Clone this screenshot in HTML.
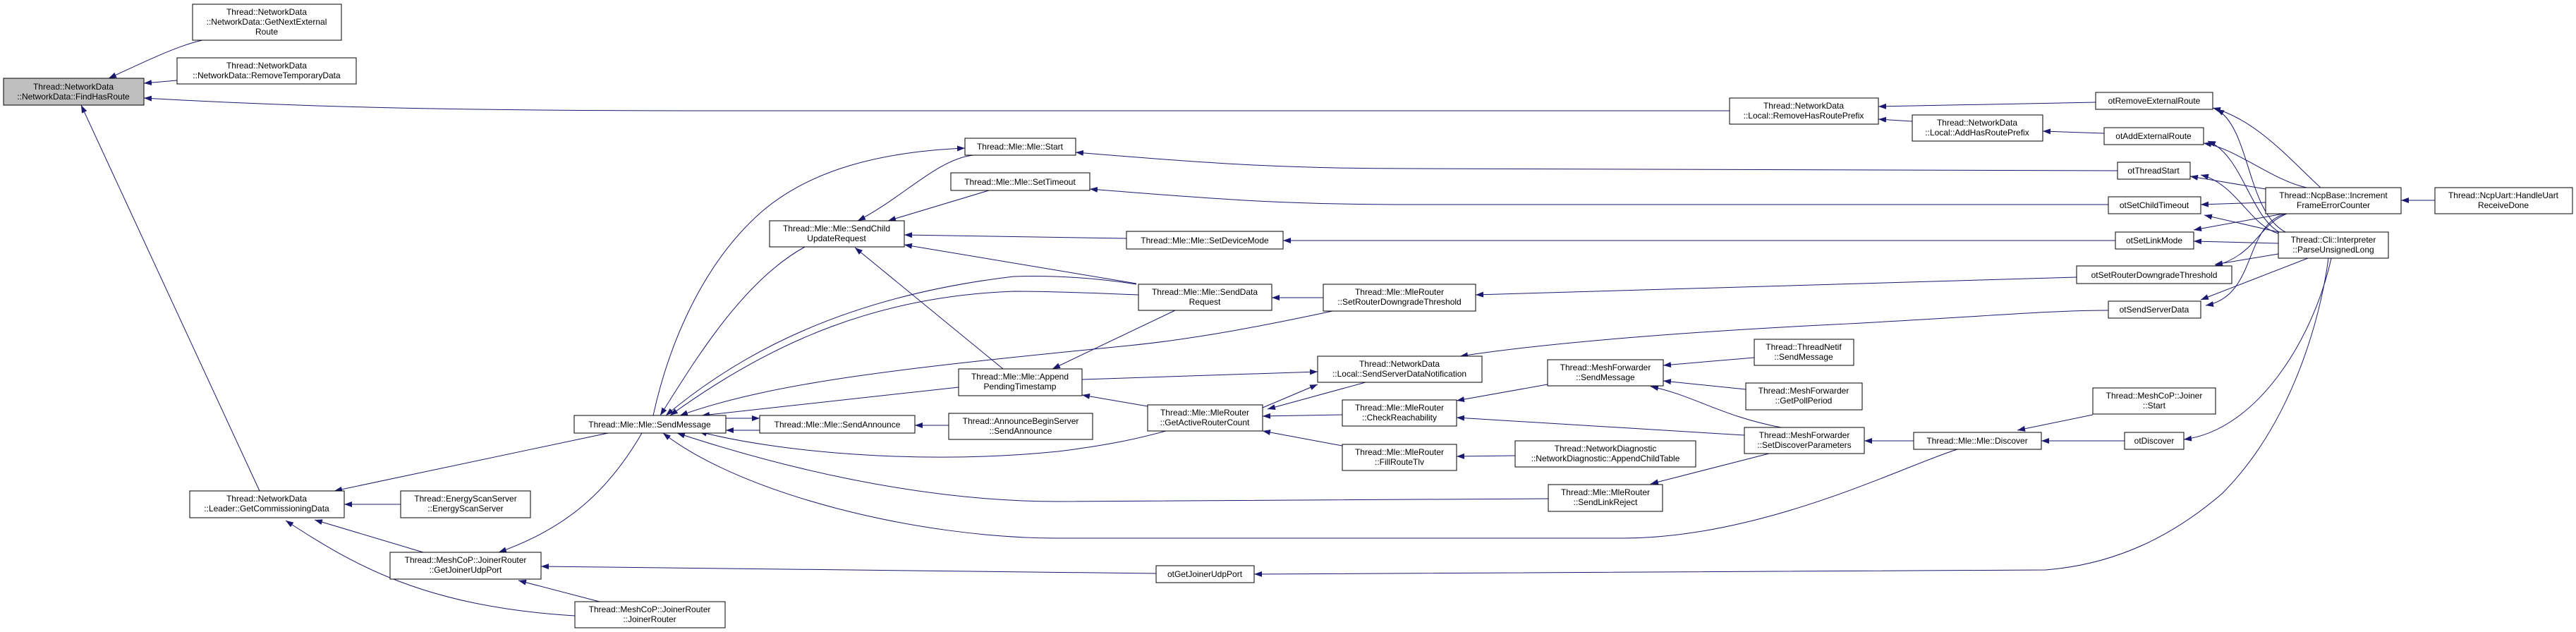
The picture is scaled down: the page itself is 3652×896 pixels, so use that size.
<!DOCTYPE html>
<html><head><meta charset="utf-8"><style>
html,body{margin:0;padding:0;background:#fff;}
svg{display:block;}
text{font-family:"Liberation Sans",sans-serif;font-size:12px;fill:#000;}
.n{fill:#fff;stroke:#000;stroke-width:1;}
.e{fill:none;stroke:#191970;stroke-width:1;marker-start:url(#a);}
</style></head><body>
<svg width="3652" height="896" viewBox="0 0 3652 896" xmlns="http://www.w3.org/2000/svg">
<defs><marker id="a" markerWidth="12" markerHeight="8" refX="11" refY="4" orient="auto-start-reverse" markerUnits="userSpaceOnUse"><path d="M0,0 L11,4 L0,8 z" fill="#191970"/></marker></defs>
<g>
<path class="e" d="M154,111 C200,90 250,65 287,57"/>
<path class="e" d="M204,118 L251,114"/>
<path class="e" d="M204,139 C400,150 600,157 1000,157 L2452,157"/>
<path class="e" d="M115,149 L368,696"/>
<path class="e" d="M474,696 L862,614"/>
<path class="e" d="M488,715 L568,715"/>
<path class="e" d="M446,737 L600,783"/>
<path class="e" d="M405,738 C500,800 600,860 815,873"/>
<path class="e" d="M707,783 C800,750 860,700 910,614"/>
<path class="e" d="M735,823 L850,853"/>
<path class="e" d="M767,803 L1639,813"/>
<path class="e" d="M1368,210 C1250,215 1150,240 1080,300 C1000,370 950,480 926,589"/>
<path class="e" d="M936,589 C980,520 1050,400 1141,350"/>
<path class="e" d="M944,589 C1050,500 1200,420 1437,392 C1500,390 1560,395 1611,403"/>
<path class="e" d="M950,589 C1100,480 1250,420 1437,413 C1500,413 1560,416 1614,418"/>
<path class="e" d="M964,589 C1100,540 1300,520 1600,490 C1700,480 1800,460 1889,441"/>
<path class="e" d="M995,589 L1359,549"/>
<path class="e" d="M991,612 C1100,640 1300,660 1500,640 C1580,630 1620,620 1653,611"/>
<path class="e" d="M960,614 C1100,660 1300,711 1500,711 L2195,707"/>
<path class="e" d="M940,614 C1050,700 1300,763 1500,763 L2300,763 C2500,763 2700,660 2775,637"/>
<path class="e" d="M1029,610 L1077,610"/>
<path class="e" d="M1077,593 L1029,593"/>
<path class="e" d="M1216,313 C1280,280 1330,225 1380,220"/>
<path class="e" d="M1259,313 L1402,270"/>
<path class="e" d="M1282,333 L1597,338"/>
<path class="e" d="M1282,347 L1611,402"/>
<path class="e" d="M1212,351 L1422,523"/>
<path class="e" d="M1492,523 L1666,440"/>
<path class="e" d="M1534,560 L1627,576"/>
<path class="e" d="M1803,422 L1876,422"/>
<path class="e" d="M1297,603 L1345,603"/>
<path class="e" d="M1525,216 C1700,230 1800,239 2000,239 L3002,242"/>
<path class="e" d="M1545,268 C1700,280 1800,290 2000,290 L2989,290"/>
<path class="e" d="M1819,341 L2999,341"/>
<path class="e" d="M2092,418 L2944,393"/>
<path class="e" d="M2070,505 C2200,485 2400,470 2600,460 C2800,450 2900,440 2989,440"/>
<path class="e" d="M1868,527 L1534,538"/>
<path class="e" d="M1868,545 L1790,578"/>
<path class="e" d="M1797,580 L1936,542"/>
<path class="e" d="M1790,590 L1903,588"/>
<path class="e" d="M1790,611 L1903,632"/>
<path class="e" d="M2065,568 L2194,545"/>
<path class="e" d="M2065,592 L2473,617"/>
<path class="e" d="M2065,647 L2148,646"/>
<path class="e" d="M2358,518 L2487,507"/>
<path class="e" d="M2358,540 L2475,552"/>
<path class="e" d="M2340,548 C2400,560 2440,590 2525,606"/>
<path class="e" d="M2340,686 L2508,643"/>
<path class="e" d="M2643,625 L2713,625"/>
<path class="e" d="M2860,610 L2967,588"/>
<path class="e" d="M2894,625 L3012,625"/>
<path class="e" d="M2663,151 L2971,145"/>
<path class="e" d="M2663,169 L2711,172"/>
<path class="e" d="M2896,186 L2983,189"/>
<path class="e" d="M1778,814 L2900,808 C3000,800 3080,760 3150,700 C3250,600 3290,450 3301,366"/>
<path class="e" d="M3096,623 C3200,610 3280,480 3305,366"/>
<path class="e" d="M3404,284 L3452,284"/>
<path class="e" d="M3137,153 C3200,170 3250,230 3290,266"/>
<path class="e" d="M3124,203 C3170,210 3220,255 3270,266"/>
<path class="e" d="M3105,250 L3212,268"/>
<path class="e" d="M3120,290 L3212,287"/>
<path class="e" d="M3110,326 L3237,303"/>
<path class="e" d="M3140,377 C3200,360 3200,320 3242,303"/>
<path class="e" d="M3127,433 C3200,420 3180,320 3240,303"/>
<path class="e" d="M3142,155 C3190,180 3185,300 3240,329"/>
<path class="e" d="M3130,200 C3180,220 3190,310 3235,331"/>
<path class="e" d="M3120,248 C3170,260 3190,320 3230,331"/>
<path class="e" d="M3125,305 L3230,329"/>
<path class="e" d="M3110,342 L3230,345"/>
<path class="e" d="M3140,375 L3230,360"/>
<path class="e" d="M3120,425 L3272,366"/>
</g>
<g>
<rect x="5" y="111" width="199" height="38" fill="#bfbfbf" stroke="#000"/>
<text x="104" y="127" text-anchor="middle">Thread::NetworkData</text><text x="104" y="141" text-anchor="middle">::NetworkData::FindHasRoute</text>
<rect class="n" x="273" y="6" width="211" height="51"/>
<text x="378" y="21" text-anchor="middle">Thread::NetworkData</text><text x="378" y="35" text-anchor="middle">::NetworkData::GetNextExternal</text><text x="378" y="49" text-anchor="middle">Route</text>
<rect class="n" x="251" y="82" width="254" height="37"/>
<text x="378" y="97" text-anchor="middle">Thread::NetworkData</text><text x="378" y="111" text-anchor="middle">::NetworkData::RemoveTemporaryData</text>
<rect class="n" x="269" y="696" width="219" height="38"/>
<text x="378" y="711" text-anchor="middle">Thread::NetworkData</text><text x="378" y="725" text-anchor="middle">::Leader::GetCommissioningData</text>
<rect class="n" x="568" y="696" width="184" height="38"/>
<text x="660" y="711" text-anchor="middle">Thread::EnergyScanServer</text><text x="660" y="725" text-anchor="middle">::EnergyScanServer</text>
<rect class="n" x="553" y="783" width="214" height="38"/>
<text x="660" y="798" text-anchor="middle">Thread::MeshCoP::JoinerRouter</text><text x="660" y="812" text-anchor="middle">::GetJoinerUdpPort</text>
<rect class="n" x="814" y="589" width="215" height="25"/>
<text x="921" y="606" text-anchor="middle">Thread::Mle::Mle::SendMessage</text>
<rect class="n" x="815" y="853" width="213" height="37"/>
<text x="921" y="868" text-anchor="middle">Thread::MeshCoP::JoinerRouter</text><text x="921" y="882" text-anchor="middle">::JoinerRouter</text>
<rect class="n" x="1091" y="313" width="191" height="37"/>
<text x="1186" y="328" text-anchor="middle">Thread::Mle::Mle::SendChild</text><text x="1186" y="342" text-anchor="middle">UpdateRequest</text>
<rect class="n" x="1077" y="589" width="220" height="25"/>
<text x="1187" y="606" text-anchor="middle">Thread::Mle::Mle::SendAnnounce</text>
<rect class="n" x="1368" y="196" width="157" height="24"/>
<text x="1446" y="212" text-anchor="middle">Thread::Mle::Mle::Start</text>
<rect class="n" x="1348" y="245" width="197" height="25"/>
<text x="1446" y="262" text-anchor="middle">Thread::Mle::Mle::SetTimeout</text>
<rect class="n" x="1597" y="328" width="222" height="25"/>
<text x="1708" y="345" text-anchor="middle">Thread::Mle::Mle::SetDeviceMode</text>
<rect class="n" x="1614" y="403" width="189" height="37"/>
<text x="1708" y="418" text-anchor="middle">Thread::Mle::Mle::SendData</text><text x="1708" y="432" text-anchor="middle">Request</text>
<rect class="n" x="1359" y="523" width="175" height="38"/>
<text x="1446" y="538" text-anchor="middle">Thread::Mle::Mle::Append</text><text x="1446" y="552" text-anchor="middle">PendingTimestamp</text>
<rect class="n" x="1345" y="586" width="204" height="37"/>
<text x="1447" y="601" text-anchor="middle">Thread::AnnounceBeginServer</text><text x="1447" y="615" text-anchor="middle">::SendAnnounce</text>
<rect class="n" x="1627" y="574" width="163" height="37"/>
<text x="1708" y="589" text-anchor="middle">Thread::Mle::MleRouter</text><text x="1708" y="603" text-anchor="middle">::GetActiveRouterCount</text>
<rect class="n" x="1639" y="802" width="139" height="24"/>
<text x="1708" y="818" text-anchor="middle">otGetJoinerUdpPort</text>
<rect class="n" x="1876" y="403" width="216" height="38"/>
<text x="1984" y="418" text-anchor="middle">Thread::Mle::MleRouter</text><text x="1984" y="432" text-anchor="middle">::SetRouterDowngradeThreshold</text>
<rect class="n" x="1868" y="505" width="233" height="37"/>
<text x="1984" y="520" text-anchor="middle">Thread::NetworkData</text><text x="1984" y="534" text-anchor="middle">::Local::SendServerDataNotification</text>
<rect class="n" x="1903" y="567" width="162" height="37"/>
<text x="1984" y="582" text-anchor="middle">Thread::Mle::MleRouter</text><text x="1984" y="596" text-anchor="middle">::CheckReachability</text>
<rect class="n" x="1903" y="630" width="162" height="37"/>
<text x="1984" y="645" text-anchor="middle">Thread::Mle::MleRouter</text><text x="1984" y="659" text-anchor="middle">::FillRouteTlv</text>
<rect class="n" x="2194" y="510" width="164" height="37"/>
<text x="2276" y="525" text-anchor="middle">Thread::MeshForwarder</text><text x="2276" y="539" text-anchor="middle">::SendMessage</text>
<rect class="n" x="2148" y="625" width="256" height="37"/>
<text x="2276" y="640" text-anchor="middle">Thread::NetworkDiagnostic</text><text x="2276" y="654" text-anchor="middle">::NetworkDiagnostic::AppendChildTable</text>
<rect class="n" x="2195" y="687" width="162" height="38"/>
<text x="2276" y="702" text-anchor="middle">Thread::Mle::MleRouter</text><text x="2276" y="716" text-anchor="middle">::SendLinkReject</text>
<rect class="n" x="2452" y="139" width="211" height="37"/>
<text x="2557" y="154" text-anchor="middle">Thread::NetworkData</text><text x="2557" y="168" text-anchor="middle">::Local::RemoveHasRoutePrefix</text>
<rect class="n" x="2711" y="163" width="185" height="37"/>
<text x="2803" y="178" text-anchor="middle">Thread::NetworkData</text><text x="2803" y="192" text-anchor="middle">::Local::AddHasRoutePrefix</text>
<rect class="n" x="2487" y="481" width="141" height="37"/>
<text x="2557" y="496" text-anchor="middle">Thread::ThreadNetif</text><text x="2557" y="510" text-anchor="middle">::SendMessage</text>
<rect class="n" x="2475" y="543" width="165" height="38"/>
<text x="2557" y="558" text-anchor="middle">Thread::MeshForwarder</text><text x="2557" y="572" text-anchor="middle">::GetPollPeriod</text>
<rect class="n" x="2473" y="606" width="170" height="37"/>
<text x="2558" y="621" text-anchor="middle">Thread::MeshForwarder</text><text x="2558" y="635" text-anchor="middle">::SetDiscoverParameters</text>
<rect class="n" x="2713" y="613" width="181" height="24"/>
<text x="2803" y="629" text-anchor="middle">Thread::Mle::Mle::Discover</text>
<rect class="n" x="2971" y="131" width="166" height="24"/>
<text x="3054" y="147" text-anchor="middle">otRemoveExternalRoute</text>
<rect class="n" x="2983" y="181" width="141" height="24"/>
<text x="3053" y="197" text-anchor="middle">otAddExternalRoute</text>
<rect class="n" x="3002" y="230" width="103" height="24"/>
<text x="3053" y="246" text-anchor="middle">otThreadStart</text>
<rect class="n" x="2989" y="279" width="131" height="24"/>
<text x="3054" y="295" text-anchor="middle">otSetChildTimeout</text>
<rect class="n" x="2999" y="329" width="111" height="24"/>
<text x="3054" y="345" text-anchor="middle">otSetLinkMode</text>
<rect class="n" x="2944" y="377" width="220" height="25"/>
<text x="3054" y="394" text-anchor="middle">otSetRouterDowngradeThreshold</text>
<rect class="n" x="2989" y="427" width="131" height="24"/>
<text x="3054" y="443" text-anchor="middle">otSendServerData</text>
<rect class="n" x="2967" y="550" width="174" height="37"/>
<text x="3054" y="565" text-anchor="middle">Thread::MeshCoP::Joiner</text><text x="3054" y="579" text-anchor="middle">::Start</text>
<rect class="n" x="3012" y="613" width="84" height="24"/>
<text x="3054" y="629" text-anchor="middle">otDiscover</text>
<rect class="n" x="3212" y="266" width="192" height="37"/>
<text x="3308" y="281" text-anchor="middle">Thread::NcpBase::Increment</text><text x="3308" y="295" text-anchor="middle">FrameErrorCounter</text>
<rect class="n" x="3230" y="329" width="156" height="37"/>
<text x="3308" y="344" text-anchor="middle">Thread::Cli::Interpreter</text><text x="3308" y="358" text-anchor="middle">::ParseUnsignedLong</text>
<rect class="n" x="3452" y="266" width="195" height="37"/>
<text x="3549" y="281" text-anchor="middle">Thread::NcpUart::HandleUart</text><text x="3549" y="295" text-anchor="middle">ReceiveDone</text>
</g>
</svg>
</body></html>
